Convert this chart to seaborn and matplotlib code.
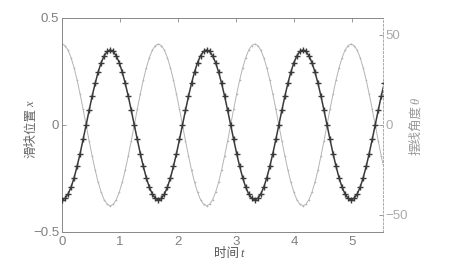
import numpy as np
import pandas as pd
import matplotlib
matplotlib.use("Agg")
import matplotlib.pyplot as plt
import seaborn as sns

# time grid (s)
dt = 0.051875
# slider position x (left axis)
slider_x = [
    -0.350, -0.343, -0.323, -0.291, -0.247, -0.194, -0.134, -0.068,
     0.000,  0.068,  0.134,  0.194,  0.247,  0.291,  0.323,  0.343,
     0.350,  0.343,  0.323,  0.291,  0.247,  0.194,  0.134,  0.068,
     0.000, -0.068, -0.134, -0.194, -0.247, -0.291, -0.323, -0.343,
    -0.350, -0.343, -0.323, -0.291, -0.247, -0.194, -0.134, -0.068,
     0.000,  0.068,  0.134,  0.194,  0.247,  0.291,  0.323,  0.343,
     0.350,  0.343,  0.323,  0.291,  0.247,  0.194,  0.134,  0.068,
     0.000, -0.068, -0.134, -0.194, -0.247, -0.291, -0.323, -0.343,
    -0.350, -0.343, -0.323, -0.291, -0.247, -0.194, -0.134, -0.068,
     0.000,  0.068,  0.134,  0.194,  0.247,  0.291,  0.323,  0.343,
     0.350,  0.343,  0.323,  0.291,  0.247,  0.194,  0.134,  0.068,
     0.000, -0.068, -0.134, -0.194, -0.247, -0.291, -0.323, -0.343,
    -0.350, -0.343, -0.323, -0.291, -0.247, -0.194, -0.134, -0.068,
     0.000,  0.068,  0.134,  0.194,
]
# pendulum angle theta (right axis, degrees)
pend_theta = [
     45.0,  44.1,  41.6,  37.4,  31.8,  25.0,  17.2,   8.8,
      0.0,  -8.8, -17.2, -25.0, -31.8, -37.4, -41.6, -44.1,
    -45.0, -44.1, -41.6, -37.4, -31.8, -25.0, -17.2,  -8.8,
      0.0,   8.8,  17.2,  25.0,  31.8,  37.4,  41.6,  44.1,
     45.0,  44.1,  41.6,  37.4,  31.8,  25.0,  17.2,   8.8,
      0.0,  -8.8, -17.2, -25.0, -31.8, -37.4, -41.6, -44.1,
    -45.0, -44.1, -41.6, -37.4, -31.8, -25.0, -17.2,  -8.8,
      0.0,   8.8,  17.2,  25.0,  31.8,  37.4,  41.6,  44.1,
     45.0,  44.1,  41.6,  37.4,  31.8,  25.0,  17.2,   8.8,
      0.0,  -8.8, -17.2, -25.0, -31.8, -37.4, -41.6, -44.1,
    -45.0, -44.1, -41.6, -37.4, -31.8, -25.0, -17.2,  -8.8,
      0.0,   8.8,  17.2,  25.0,  31.8,  37.4,  41.6,  44.1,
     45.0,  44.1,  41.6,  37.4,  31.8,  25.0,  17.2,   8.8,
      0.0,  -8.8, -17.2, -25.0,
]
t = np.arange(len(slider_x)) * dt
xticks = [0, 1, 2, 3, 4, 5]
left_ticks = [-0.5, 0, 0.5]
left_ticklabels = ["\u22120.5", "0", "0.5"]
right_ticks = [-50, 0, 50]
right_ticklabels = ["\u221250", "0", "50"]
xlabel_parts = ["时间", "t"]
ylabel_parts = ["滑块位置", "x"]
y2label_parts = ["摆线角度", "\u03b8"]

df = pd.DataFrame({"t": t, "x": slider_x, "theta": pend_theta})

sns.set_theme(style="white")
plt.rcParams["font.family"] = ["Liberation Sans", "Noto Sans CJK SC", "DejaVu Sans"]

W, H = 456, 271
fig = plt.figure(figsize=(W / 100, H / 100), dpi=100)
ax = fig.add_axes([0.136, 0.144, 0.704, 0.790])
ax2 = ax.twinx()

sns.lineplot(data=df, x="t", y="theta", ax=ax2, color="#b4b4b4", lw=0.7,
             marker=".", markersize=2.5, markeredgewidth=0, zorder=1)
sns.lineplot(data=df, x="t", y="x", ax=ax, color="#3a3a3a", lw=1.1,
             marker="+", markersize=5, markeredgewidth=1.0,
             markeredgecolor="#3a3a3a", zorder=3)
ax.set_zorder(ax2.get_zorder() + 1)
ax.patch.set_visible(False)

ax.set_xlim(0, 5.53)
ax.set_ylim(-0.5, 0.5)
ax2.set_ylim(-59.5, 59.5)

ax.set_xticks(xticks)
ax.set_xticklabels([str(v) for v in xticks])
ax.set_yticks(left_ticks)
ax.set_yticklabels(left_ticklabels)
ax2.set_yticks(right_ticks)
ax2.set_yticklabels(right_ticklabels)

for a in (ax, ax2):
    a.tick_params(direction="in", length=3, width=0.6, colors="#888888",
                  labelcolor="#808080", labelsize=9.5, pad=2)
ax2.tick_params(labelcolor="#aaaaaa")
ax.tick_params(axis="x", top=True, pad=3)

for name, sp in ax.spines.items():
    sp.set_color("#888888")
    sp.set_linewidth(0.7)
ax.spines["right"].set_visible(False)
for name, sp in ax2.spines.items():
    sp.set_visible(False)
ax2.spines["right"].set_visible(True)
ax2.spines["right"].set_color("#aaaaaa")
ax2.spines["right"].set_linestyle((0, (2, 2)))
ax2.spines["right"].set_linewidth(0.7)
ax.set_xlabel("")
ax.set_ylabel("")
ax2.set_ylabel("")

renderer = fig.canvas.get_renderer()


def mixed_label(xp, yp, parts, color, rotation, size=9):
    """Place CJK text followed by an italic serif letter, centred at pixel (xp, yp)."""
    styles = [dict(family=["Noto Sans CJK SC", "DejaVu Sans"], style="normal"),
              dict(family=["Liberation Serif", "DejaVu Serif"], style="italic")]
    widths = []
    for p, st in zip(parts, styles):
        tmp = fig.text(0, 0, p, fontsize=size, **st)
        widths.append(tmp.get_window_extent(renderer).width)
        tmp.remove()
    total = sum(widths) + 1
    pos = -total / 2
    for p, st, w in zip(parts, styles, widths):
        if rotation == 0:
            fig.text((xp + pos) / W, 1 - yp / H, p, fontsize=size, color=color,
                     ha="left", va="center", **st)
        else:
            fig.text(xp / W, 1 - (yp - pos) / H, p, fontsize=size, color=color,
                     rotation=90, ha="center", va="bottom", **st)
        pos += w + 1


mixed_label(229, 254, xlabel_parts, "#555555", 0)
mixed_label(31, 130, ylabel_parts, "#666666", 90)
mixed_label(416, 126, y2label_parts, "#9a9a9a", 90)

fig.savefig("out.png", dpi=100)
